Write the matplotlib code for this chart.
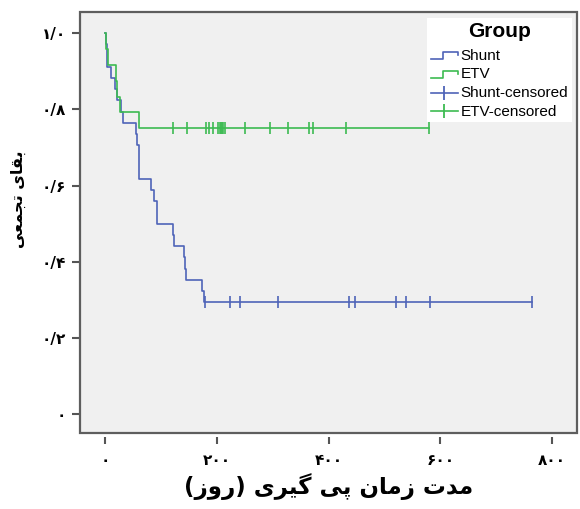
import numpy as np
import matplotlib
matplotlib.use("Agg")
import matplotlib.pyplot as plt
from matplotlib.lines import Line2D
from matplotlib.patches import Rectangle
from matplotlib.legend_handler import HandlerBase


# ── Data ──────────────────────────────────────────────────────────────────

# Kaplan-Meier steps: time (days) where survival changes, and the new level
SHUNT_TIMES = [0, 2, 4, 11, 18, 21, 28, 32, 55, 57, 60, 82, 88, 92,
               121, 124, 141, 143, 145, 174, 177]
SHUNT_SURV = [1.0, 0.971, 0.912, 0.882, 0.853, 0.824, 0.794, 0.765, 0.735,
              0.706, 0.618, 0.588, 0.559, 0.500, 0.471, 0.441, 0.412,
              0.382, 0.353, 0.324, 0.294]
SHUNT_CENSORED = [178, 223, 241, 310, 436, 447, 520, 538, 582, 765]

ETV_TIMES = [0, 2, 5, 19, 22, 26, 60]
ETV_SURV = [1.0, 0.958, 0.917, 0.875, 0.833, 0.792, 0.750]
ETV_CENSORED = [122, 147, 180, 186, 193, 202, 205, 207, 209, 211, 214,
                250, 296, 327, 365, 372, 432, 580]

X_TICKS = [0, 200, 400, 600, 800]
X_TICK_LABELS = ["۰", "۲۰۰", "۴۰۰", "۶۰۰", "۸۰۰"]
Y_TICKS = [0, 0.2, 0.4, 0.6, 0.8, 1.0]
Y_TICK_LABELS = ["۰", "۰/۲", "۰/۴", "۰/۶", "۰/۸", "۱/۰"]

X_LABEL = "مدت زمان پی گیری (روز)"
Y_LABEL = "بقای تجمعی"
LEGEND_TITLE = "Group"
LEGEND_LABELS = ["Shunt", "ETV", "Shunt-censored", "ETV-censored"]

SHUNT_COLOR = "#4f64b8"
ETV_COLOR = "#3dbb52"


# ── Minimal Persian shaping (matplotlib has no bidi / joining) ─────────────

# letter: (isolated, final, initial, medial) ; right-joiners have only 2 forms
FORMS = {
    "ب": ("\uFE8F", "\uFE90", "\uFE91", "\uFE92"),
    "ت": ("\uFE95", "\uFE96", "\uFE97", "\uFE98"),
    "ج": ("\uFE9D", "\uFE9E", "\uFE9F", "\uFEA0"),
    "ع": ("\uFEC9", "\uFECA", "\uFECB", "\uFECC"),
    "ق": ("\uFED5", "\uFED6", "\uFED7", "\uFED8"),
    "م": ("\uFEE1", "\uFEE2", "\uFEE3", "\uFEE4"),
    "ن": ("\uFEE5", "\uFEE6", "\uFEE7", "\uFEE8"),
    "ی": ("\uFBFC", "\uFBFD", "\uFBFE", "\uFBFF"),
    "پ": ("\uFB56", "\uFB57", "\uFB58", "\uFB59"),
    "گ": ("\uFB92", "\uFB93", "\uFB94", "\uFB95"),
    "ا": ("\uFE8D", "\uFE8E"),
    "د": ("\uFEA9", "\uFEAA"),
    "ر": ("\uFEAD", "\uFEAE"),
    "ز": ("\uFEAF", "\uFEB0"),
    "و": ("\uFEED", "\uFEEE"),
}


def shape_rtl(text):
    out = []
    for i, ch in enumerate(text):
        if ch not in FORMS:
            out.append(ch)
            continue
        prev = text[i - 1] if i > 0 else ""
        nxt = text[i + 1] if i + 1 < len(text) else ""
        joins_prev = prev in FORMS and len(FORMS[prev]) == 4
        joins_next = len(FORMS[ch]) == 4 and nxt in FORMS
        if joins_prev and joins_next:
            out.append(FORMS[ch][3])
        elif joins_prev:
            out.append(FORMS[ch][1])
        elif joins_next:
            out.append(FORMS[ch][2])
        else:
            out.append(FORMS[ch][0])
    visual = "".join(reversed(out))
    return visual.translate(str.maketrans("()", ")("))


def step_at(times, surv, t):
    idx = np.searchsorted(times, t, side="right") - 1
    return np.asarray(surv)[idx]


# ── Legend handlers (step symbol and censor tick) ────────────────────────

class StepHandler(HandlerBase):
    def create_artists(self, legend, orig, xd, yd, w, h, fontsize, trans):
        lo, hi = yd + 0.05 * h, yd + 0.7 * h
        xs = [xd, xd + 0.45 * w, xd + 0.45 * w, xd + w, xd + w]
        ys = [lo, lo, hi, hi, hi - 0.25 * h]
        ln = Line2D(xs, ys, color=orig.get_color(), lw=1.2, transform=trans)
        return [ln]


class CensorHandler(HandlerBase):
    def create_artists(self, legend, orig, xd, yd, w, h, fontsize, trans):
        ymid = yd + 0.4 * h
        ln = Line2D([xd, xd + w], [ymid, ymid], color=orig.get_color(),
                    lw=1.2, transform=trans)
        mk = Line2D([xd + 0.5 * w], [ymid], color=orig.get_color(),
                    marker="|", markersize=10, mew=1.3, ls="", transform=trans)
        return [ln, mk]


# ── Figure ───────────────────────────────────────────────────────────────

fig = plt.figure(figsize=(5.8, 5.09), dpi=100, facecolor="white")
ax = fig.add_axes([0.138, 0.149, 0.857, 0.827])
ax.set_facecolor("#f0f0f0")

x_end_shunt = max(SHUNT_CENSORED)
x_end_etv = max(ETV_CENSORED)

sh_line, = ax.step(SHUNT_TIMES + [x_end_shunt], SHUNT_SURV + [SHUNT_SURV[-1]],
                   where="post", color=SHUNT_COLOR, lw=1.2)
etv_line, = ax.step(ETV_TIMES + [x_end_etv], ETV_SURV + [ETV_SURV[-1]],
                    where="post", color=ETV_COLOR, lw=1.2)

sh_cens, = ax.plot(SHUNT_CENSORED,
                   step_at(SHUNT_TIMES, SHUNT_SURV, SHUNT_CENSORED),
                   ls="", marker="|", markersize=8, mew=1.2, color=SHUNT_COLOR)
etv_cens, = ax.plot(ETV_CENSORED,
                    step_at(ETV_TIMES, ETV_SURV, ETV_CENSORED),
                    ls="", marker="|", markersize=8, mew=1.2, color=ETV_COLOR)

ax.set_xlim(-45, 845)
ax.set_ylim(-0.05, 1.055)

# frame drawn by hand so the x ticks can sit slightly below it
for s in ax.spines.values():
    s.set_visible(False)
ax.add_patch(Rectangle((0, 0), 1, 1, transform=ax.transAxes, fill=False,
                       edgecolor="#5e5e5e", lw=1.6, clip_on=False, zorder=5))
ax.spines["bottom"].set_position(("outward", 3))

ax.set_xticks(X_TICKS)
ax.set_xticklabels(X_TICK_LABELS, fontsize=11, fontweight="bold",
                   family="DejaVu Sans")
ax.set_yticks(Y_TICKS)
ax.set_yticklabels(Y_TICK_LABELS, fontsize=11, fontweight="bold",
                   family="DejaVu Sans")
ax.tick_params(axis="x", direction="out", length=5, width=1.5,
               color="#555555", pad=6)
ax.tick_params(axis="y", direction="out", length=6, width=1.5,
               color="#555555", pad=4)

ax.set_xlabel(shape_rtl(X_LABEL), fontsize=16.5, fontweight="bold",
              family="DejaVu Sans", labelpad=4)
ax.set_ylabel(shape_rtl(Y_LABEL), fontsize=11.5, fontweight="bold",
              family="DejaVu Sans")
ax.yaxis.set_label_coords(-0.108, 0.555)

leg = ax.legend([sh_line, etv_line, sh_cens, etv_cens], LEGEND_LABELS,
                handler_map={sh_line: StepHandler(), etv_line: StepHandler(),
                             sh_cens: CensorHandler(), etv_cens: CensorHandler()},
                loc="upper right", bbox_to_anchor=(0.99, 0.987),
                borderaxespad=0, frameon=True, fancybox=False,
                facecolor="white", edgecolor="none", framealpha=1,
                prop={"family": "Liberation Sans", "size": 11},
                handlelength=1.75, handletextpad=0.2, labelspacing=0.3,
                borderpad=0.25, title=LEGEND_TITLE,
                title_fontproperties={"family": "Liberation Sans",
                                      "size": 15, "weight": "bold"})
leg._legend_box.sep = 6
leg.set_zorder(6)

fig.savefig("out.png", dpi=100, facecolor="white")
